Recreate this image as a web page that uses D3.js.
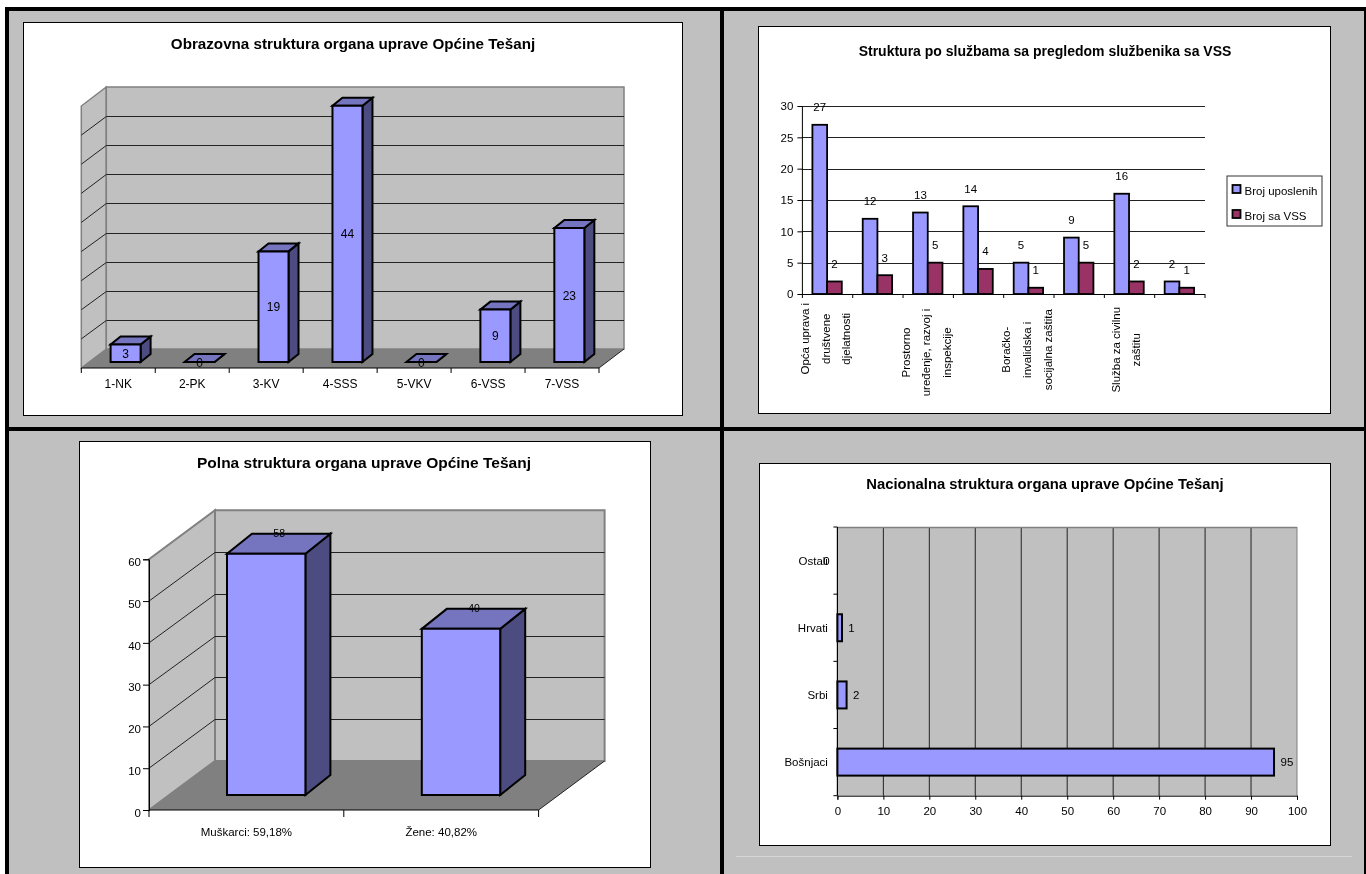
<!DOCTYPE html>
<html>
<head>
<meta charset="utf-8">
<script src="https://cdn.jsdelivr.net/npm/d3@7"></script>
<style>
html,body{margin:0;padding:0;background:#fff;overflow:hidden}
svg{display:block;will-change:transform}
text{font-family:"Liberation Sans",Arial,sans-serif;fill:#000}
.title{font-weight:bold;text-anchor:middle}
</style>
</head>
<body>
<svg id="c" width="1366" height="874"></svg>
<script>
// ---- Data ----
const eduTitle = "Obrazovna struktura organa uprave Općine Tešanj";
const eduCategories = ["1-NK","2-PK","3-KV","4-SSS","5-VKV","6-VSS","7-VSS"];
const eduValues = [3,0,19,44,0,9,23];
const eduTicks = [0,5,10,15,20,25,30,35,40,45];

const svcTitle = "Struktura po službama sa pregledom službenika sa VSS";
const svcCategoryLines = [
  ["Opća uprava i","društvene","djelatnosti"],[],
  ["Prostorno","uređenje, razvoj i","inspekcije"],[],
  ["Boračko-","invalidska i","socijalna zaštita"],[],
  ["Služba za civilnu","zaštitu"],[]
];
const svcEmployees = [27,12,13,14,5,9,16,2];
const svcHigherEd = [2,3,5,4,1,5,2,1];
const svcSeries = ["Broj uposlenih","Broj sa VSS"];
const svcTicks = [0,5,10,15,20,25,30];

const sexTitle = "Polna struktura organa uprave Općine Tešanj";
const sexCategories = ["Muškarci:  59,18%","Žene:  40,82%"];
const sexValues = [58,40];
const sexTicks = [0,10,20,30,40,50,60];

const natTitle = "Nacionalna struktura organa uprave Općine Tešanj";
const natCategories = ["Bošnjaci","Srbi","Hrvati","Ostali"];
const natValues = [95,2,1,0];
const natTicks = [0,10,20,30,40,50,60,70,80,90,100];

// ---- Styles ----
const BG="#c0c0c0", FLOOR="#808080", WALL="#808080", GRID="#222";
const BLUE="#9999ff", BLUE_TOP="#7575bf", BLUE_SIDE="#4c4c80", RED="#993366";
const svg=d3.select("#c");

// ---- Page frame ----
svg.append("rect").attr("x",5).attr("y",7).attr("width",1361).attr("height",867).attr("fill","#000");
[[9,11,711,416],[724,11,640,416],[9,431,711,443],[724,431,640,443]].forEach(r=>
  svg.append("rect").attr("x",r[0]).attr("y",r[1]).attr("width",r[2]).attr("height",r[3]).attr("fill",BG));
svg.append("line").attr("x1",736).attr("x2",1352).attr("y1",856.5).attr("y2",856.5).attr("stroke","#d6d6d6");

function panel(x0,y0,x1,y1,title,tx,ty,size){
  const g=svg.append("g");
  g.append("rect").attr("x",x0+.5).attr("y",y0+.5).attr("width",x1-x0).attr("height",y1-y0)
    .attr("fill","#fff").attr("stroke","#000").attr("stroke-width",1);
  g.append("text").attr("class","title").attr("x",tx).attr("y",ty).attr("font-size",size).text(title);
  return g;
}
const poly=(g,pts,fill,stroke,sw)=>g.append("polygon").attr("points",pts.map(p=>p.join(",")).join(" "))
  .attr("fill",fill).attr("stroke",stroke||"none").attr("stroke-width",sw||0).attr("stroke-linejoin","miter");

function frame3d(g,x,y,ticks,dx,dy,wallW){
  const [xa,xb]=x.range(), y0=y.range()[0], yt=y.range()[1];
  poly(g,[[xa,y0],[xa+dx,y0+dy],[xa+dx,yt+dy],[xa,yt]],BG,WALL,wallW);
  poly(g,[[xa+dx,y0+dy],[xb+dx,y0+dy],[xb+dx,yt+dy],[xa+dx,yt+dy]],BG,WALL,wallW);
  ticks.slice(1,-1).forEach(t=>{
    const v=y(t), h=Math.round(v+dy)+.5;
    g.append("line").attr("x1",xa).attr("y1",v).attr("x2",xa+dx).attr("y2",h).attr("stroke",GRID);
    g.append("line").attr("x1",xa+dx).attr("y1",h).attr("x2",xb+dx).attr("y2",h).attr("stroke",GRID);
  });
  poly(g,[[xa,y0],[xb,y0],[xb+dx,y0+dy],[xa+dx,y0+dy]],FLOOR);
  g.append("path").attr("d",`M${xb},${y0}L${xb+dx},${y0+dy}`).attr("stroke","#222").attr("fill","none");
}
function bar3d(g,bx,bw,by0,h,dx,dy,sw){
  const top=by0-h;
  poly(g,[[bx+bw,by0],[bx+bw+dx,by0+dy],[bx+bw+dx,top+dy],[bx+bw,top]],BLUE_SIDE,"#000",sw);
  poly(g,[[bx,top],[bx+bw,top],[bx+bw+dx,top+dy],[bx+dx,top+dy]],BLUE_TOP,"#000",sw);
  if(h>0) poly(g,[[bx,by0],[bx+bw,by0],[bx+bw,top],[bx,top]],BLUE,"#000",sw);
}

// ---- Chart 1: education ----
(function(){
  const g=panel(23,22,682,415,eduTitle,353,49,15.2);
  const x=d3.scaleBand().domain(eduCategories).range([81.3,599]);
  const y=d3.scaleLinear().domain([0,45]).range([368,106]);
  frame3d(g,x,y,eduTicks,25,-19,1.5);
  eduValues.forEach((v,i)=>{
    const c=eduCategories[i], bx=x(c)+29.3, bw=30, by0=y(0)-6, h=y(0)-y(v);
    bar3d(g,bx,bw,by0,h,10,-8,2);
    g.append("text").attr("x",bx+bw/2).attr("y",by0-h/2+4.5).attr("text-anchor","middle").attr("font-size",12).text(v);
  });
  g.append("line").attr("x1",x.range()[0]).attr("x2",x.range()[1]).attr("y1",y(0)).attr("y2",y(0)).attr("stroke","#000").attr("stroke-width",1.2);
  eduCategories.concat(null).forEach((c,i)=>{
    const px=c?x(c):x.range()[1];
    g.append("line").attr("x1",px).attr("x2",px).attr("y1",y(0)).attr("y2",y(0)+5).attr("stroke","#000");
    if(c) g.append("text").attr("x",px+x.bandwidth()/2).attr("y",387.5).attr("text-anchor","middle").attr("font-size",12).text(c);
  });
})();

// ---- Chart 2: services ----
(function(){
  const g=panel(758,26,1330,413,svcTitle,1045,56,14);
  const keys=svcCategoryLines.map((_,i)=>i);
  const x=d3.scaleBand().domain(keys).range([802.4,1205]);
  const y=d3.scaleLinear().domain([0,30]).range([294,106]);
  svcTicks.slice(1).forEach(t=>g.append("line").attr("x1",802.4).attr("x2",1205).attr("y1",Math.round(y(t))+.5).attr("y2",Math.round(y(t))+.5).attr("stroke",GRID));
  const bw=14.7, off=10;
  [[svcEmployees,BLUE,0],[svcHigherEd,RED,1]].forEach(([vals,col,s])=>{
    vals.forEach((v,i)=>{
      const bx=x(i)+off+s*bw;
      g.append("rect").attr("x",bx).attr("y",y(v)).attr("width",bw).attr("height",y(0)-y(v))
        .attr("fill",col).attr("stroke","#000").attr("stroke-width",1.8);
      g.append("text").attr("x",bx+bw/2).attr("y",y(v)-13.5).attr("text-anchor","middle").attr("font-size",11.5).text(v);
    });
  });
  const yAxis=d3.axisLeft(y).tickValues(svcTicks).tickSize(5).tickPadding(4);
  const ax=g.append("g").attr("transform","translate(802.4,0)").call(yAxis);
  ax.selectAll("text").attr("font-size",11.5).attr("font-family",null);
  ax.selectAll("line,path").attr("stroke","#000");
  ax.select(".domain").attr("d","M0,106V294");
  g.append("line").attr("x1",802.4).attr("x2",1205).attr("y1",294.5).attr("y2",294.5).attr("stroke","#000").attr("stroke-width",1.2);
  keys.concat(null).forEach(k=>{
    const px=k===null?x.range()[1]:x(k);
    g.append("line").attr("x1",px).attr("x2",px).attr("y1",294).attr("y2",298).attr("stroke","#000");
  });
  svcCategoryLines.forEach((lines,i)=>{
    if(!lines.length) return;
    const longest=d3.max(lines,l=>l.length);
    const cx=x(i)+x.bandwidth()/2+(lines.length===2?0.5:2);
    const cy=303+longest*2.75;
    lines.forEach((l,j)=>{
      const tx=cx+(j-(lines.length-1)/2)*20.7;
      g.append("text").attr("transform",`translate(${tx},${cy}) rotate(-90)`).attr("text-anchor","middle").attr("font-size",11.5).text(l);
    });
  });
  // legend
  g.append("rect").attr("x",1227).attr("y",176).attr("width",95).attr("height",50).attr("fill","#fff").attr("stroke","#333");
  svcSeries.forEach((s,i)=>{
    const yy=[189,214][i];
    g.append("rect").attr("x",1232.5).attr("y",yy-4).attr("width",8).attr("height",8).attr("fill",[BLUE,RED][i]).attr("stroke","#000").attr("stroke-width",1.8);
    g.append("text").attr("x",1244.5).attr("y",yy+6).attr("font-size",11.5).text(s);
  });
})();

// ---- Chart 3: sex ----
(function(){
  const g=panel(79,441,650,867,sexTitle,364,468,15.5);
  const x=d3.scaleBand().domain(sexCategories).range([149,538.6]);
  const y=d3.scaleLinear().domain([0,60]).range([810,559.3]);
  frame3d(g,x,y,sexTicks,66,-49,2);
  sexValues.forEach((v,i)=>{
    const c=sexCategories[i], bx=x(c)+78, bw=78.4, by0=y(0)-15, h=y(0)-y(v);
    bar3d(g,bx,bw,by0,h-1,25,-20,2);
    g.append("text").attr("x",bx+bw/2+13).attr("y",by0-h-16).attr("text-anchor","middle").attr("font-size",10.5).text(v);
    g.append("text").attr("x",x(c)+x.bandwidth()/2).attr("y",836).attr("text-anchor","middle").attr("font-size",11.5).text(c);
  });
  const xa=149;
  g.append("line").attr("x1",xa).attr("x2",538.6).attr("y1",y(0)).attr("y2",y(0)).attr("stroke","#000").attr("stroke-width",1.2);
  sexCategories.concat(null).forEach(c=>{
    const px=c?x(c):538.6;
    g.append("line").attr("x1",px).attr("x2",px).attr("y1",810).attr("y2",817).attr("stroke","#000");
  });
  const ax=g.append("g").attr("transform",`translate(${xa},0)`).call(d3.axisLeft(y).tickValues(sexTicks).tickSize(6).tickPadding(2));
  ax.selectAll("text").attr("font-size",11.5).attr("font-family",null).attr("dy","0.55em");
  ax.selectAll("line,path").attr("stroke","#000");
})();

// ---- Chart 4: nationality ----
(function(){
  const g=panel(759,463,1330,845,natTitle,1045,489,14.8);
  const x=d3.scaleLinear().domain([0,100]).range([837.4,1297]);
  const y=d3.scaleBand().domain(natCategories).range([795.7,527]);
  g.append("rect").attr("x",837.4).attr("y",527).attr("width",459.6).attr("height",268.7).attr("fill",BG);
  natTicks.slice(1).forEach(t=>g.append("line").attr("x1",x(t)).attr("x2",x(t)).attr("y1",527).attr("y2",795.7).attr("stroke",t===100?WALL:GRID));
  g.append("line").attr("x1",837.4).attr("x2",1297).attr("y1",527.5).attr("y2",527.5).attr("stroke",WALL).attr("stroke-width",1.5);
  natValues.forEach((v,i)=>{
    const c=natCategories[i], by=y(c)+y.bandwidth()/2-13.5;
    if(v>0) g.append("rect").attr("x",x(0)).attr("y",by).attr("width",x(v)-x(0)).attr("height",27)
      .attr("fill",BLUE).attr("stroke","#000").attr("stroke-width",2);
    g.append("text").attr("x",v>0?x(v)+(v>9?13:9.5):x(0)-11).attr("y",by+17.5).attr("text-anchor","middle").attr("font-size",11.5).text(v);
  });
  const ax=g.append("g").attr("transform","translate(0,795.7)").call(d3.axisBottom(x).tickValues(natTicks).tickSize(4).tickPadding(7));
  ax.selectAll("text").attr("font-size",11.5).attr("font-family",null);
  ax.selectAll("line,path").attr("stroke","#000");
  const ay=g.append("g").attr("transform","translate(837.4,0)");
  ay.append("line").attr("y1",527).attr("y2",795.7).attr("stroke","#000").attr("stroke-width",1.2);
  natCategories.concat(null).forEach(c=>{
    const py=c?y(c)+y.bandwidth():527;
    ay.append("line").attr("x1",-4).attr("x2",0).attr("y1",py).attr("y2",py).attr("stroke","#000");
    if(c) ay.append("text").attr("x",-9.5).attr("y",y(c)+y.bandwidth()/2+4).attr("text-anchor","end").attr("font-size",11.5).text(c);
  });
})();
</script>
</body>
</html>
